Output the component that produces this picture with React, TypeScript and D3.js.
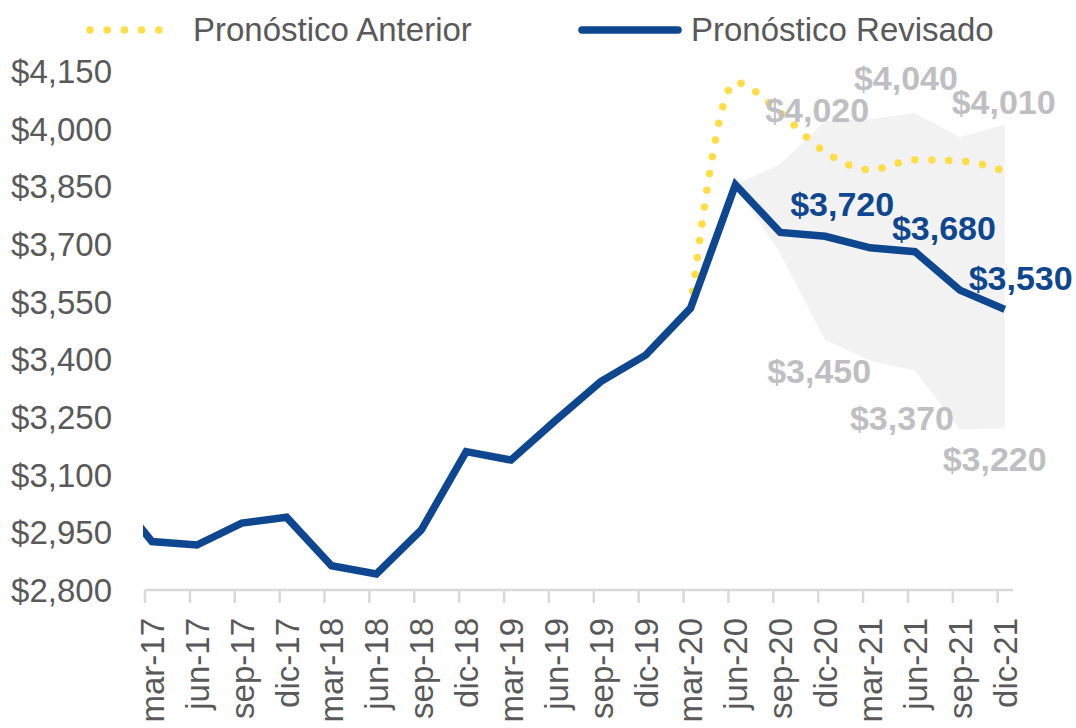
import * as d3 from "d3";
import React from "react";

// categorías trimestrales del eje X
const quarters = [
  "mar-17", "jun-17", "sep-17", "dic-17",
  "mar-18", "jun-18", "sep-18", "dic-18",
  "mar-19", "jun-19", "sep-19", "dic-19",
  "mar-20", "jun-20", "sep-20", "dic-20",
  "mar-21", "jun-21", "sep-21", "dic-21",
];

// Pronóstico Revisado (serie completa)
const revisado = [
  2926, 2917, 2974, 2989, 2863, 2842, 2956, 3160, 3138, 3242,
  3342, 3411, 3533, 3854, 3730, 3720, 3690, 3680, 3580, 3530,
];
// valor del trimestre previo (dic-16), recortado por el área del gráfico
const revisadoPrevio = 3070;

// Pronóstico Anterior (desde mar-20)
const anteriorQuarters = ["mar-20", "jun-20", "sep-20", "dic-20", "mar-21", "jun-21", "sep-21", "dic-21"];
const anterior = [3533, 4120, 4041, 3939, 3893, 3919, 3916, 3890];

// banda de incertidumbre (desde jun-20)
const bandQuarters = ["jun-20", "sep-20", "dic-20", "mar-21", "jun-21", "sep-21", "dic-21"];
const bandUpper = [3854, 3908, 4020, 4025, 4040, 3978, 4010];
const bandLower = [3854, 3674, 3450, 3396, 3370, 3219, 3220];

const yTicks = [2800, 2950, 3100, 3250, 3400, 3550, 3700, 3850, 4000, 4150];

// etiquetas de datos
const upperLabels = [
  { q: "dic-20", v: 4020, dx: -8, dy: 1 },
  { q: "jun-21", v: 4040, dx: -9, dy: -23 },
  { q: "dic-21", v: 4010, dx: -1, dy: -11 },
];
const lowerLabels = [
  { q: "dic-20", v: 3450, dx: -6, dy: 43 },
  { q: "jun-21", v: 3370, dx: -13, dy: 59 },
  { q: "dic-21", v: 3220, dx: -10, dy: 42 },
];
const revisadoLabels = [
  { q: "dic-20", v: 3720, dx: 17, dy: -20 },
  { q: "jun-21", v: 3680, dx: 29, dy: -12 },
  { q: "dic-21", v: 3530, dx: 16, dy: -19 },
];

const BLUE = "#0E478F";
const YELLOW = "#FFDD45";
const GRAY_LABEL = "#BFBFC3";
const TEXT = "#595959";
const FONT = "'Liberation Sans', Arial, sans-serif";

const fmt = (v: number) => "$" + d3.format(",")(v);

export default function App() {
  const width = 1076;
  const height = 728;

  const x = d3.scalePoint<string>().domain(quarters).range([152, 1004.7]);
  const step = x.step();
  const y = d3.scaleLinear().domain([2800, 4150]).range([590, 71]);

  const revLine = d3
    .line<number>()
    .x((_, i) => (i === 0 ? (x(quarters[0]) as number) - step : (x(quarters[i - 1]) as number)))
    .y((d) => y(d));
  const revPath = revLine([revisadoPrevio, ...revisado]) || "";

  const antLine = d3
    .line<number>()
    .x((_, i) => x(anteriorQuarters[i]) as number)
    .y((d) => y(d))
    .curve(d3.curveMonotoneX);

  const band = d3
    .area<number>()
    .x((_, i) => x(bandQuarters[i]) as number)
    .y0((_, i) => y(bandLower[i]))
    .y1((d) => y(d));

  const fmtFmt = fmt;

  return (
    <svg width={width} height={height} style={{ position: "absolute", left: 0, top: 0, background: "#fff" }}>
      <defs>
        <clipPath id="plot">
          <rect x={143} y={0} width={900} height={600} />
        </clipPath>
      </defs>

      {/* leyenda */}
      <line x1={90} x2={176} y1={30} y2={30} stroke={YELLOW} strokeWidth={7.5} strokeLinecap="round" strokeDasharray="0 17.2" />
      <text x={193} y={41} fontFamily={FONT} fontSize={33} fill={TEXT}>Pronóstico Anterior</text>
      <line x1={582} x2={678} y1={30} y2={30} stroke={BLUE} strokeWidth={7.5} strokeLinecap="round" />
      <text x={691} y={41} fontFamily={FONT} fontSize={33} fill={TEXT}>Pronóstico Revisado</text>

      {/* eje Y */}
      {yTicks.map((t) => (
        <text key={t} x={112} y={y(t)} dy="0.36em" textAnchor="end" fontFamily={FONT} fontSize={33} fill={TEXT}>
          {fmtFmt(t)}
        </text>
      ))}

      {/* banda */}
      <path d={band(bandUpper) || ""} fill="#F2F2F2" />

      {/* eje X */}
      <line x1={145} x2={1013} y1={590} y2={590} stroke="#D9D9D9" strokeWidth={2.5} />
      {quarters.map((q) => (
        <line key={q} x1={(x(q) as number) - 7} x2={(x(q) as number) - 7} y1={590} y2={603} stroke="#D9D9D9" strokeWidth={2.5} />
      ))}
      {quarters.map((q) => (
        <text
          key={q}
          transform={`translate(${x(q)},618) rotate(-90)`}
          dy="0.36em"
          textAnchor="end"
          fontFamily={FONT}
          fontSize={33}
          fill={TEXT}
        >
          {q}
        </text>
      ))}

      {/* series */}
      <path d={antLine(anterior) || ""} fill="none" stroke={YELLOW} strokeWidth={7.5} strokeLinecap="round" strokeDasharray="0 17" />
      <path d={revPath} fill="none" stroke={BLUE} strokeWidth={7.5} strokeLinejoin="miter" clipPath="url(#plot)" />

      {/* etiquetas */}
      {[...upperLabels, ...lowerLabels].map((l, i) => (
        <text
          key={"g" + i}
          x={(x(l.q) as number) + l.dx}
          y={y(l.v) + l.dy}
          textAnchor="middle"
          fontFamily={FONT}
          fontSize={34}
          fontWeight="bold"
          fill={GRAY_LABEL}
        >
          {fmt(l.v)}
        </text>
      ))}
      {revisadoLabels.map((l, i) => (
        <text
          key={"b" + i}
          x={(x(l.q) as number) + l.dx}
          y={y(l.v) + l.dy}
          textAnchor="middle"
          fontFamily={FONT}
          fontSize={34}
          fontWeight="bold"
          fill={BLUE}
        >
          {fmt(l.v)}
        </text>
      ))}
    </svg>
  );
}
